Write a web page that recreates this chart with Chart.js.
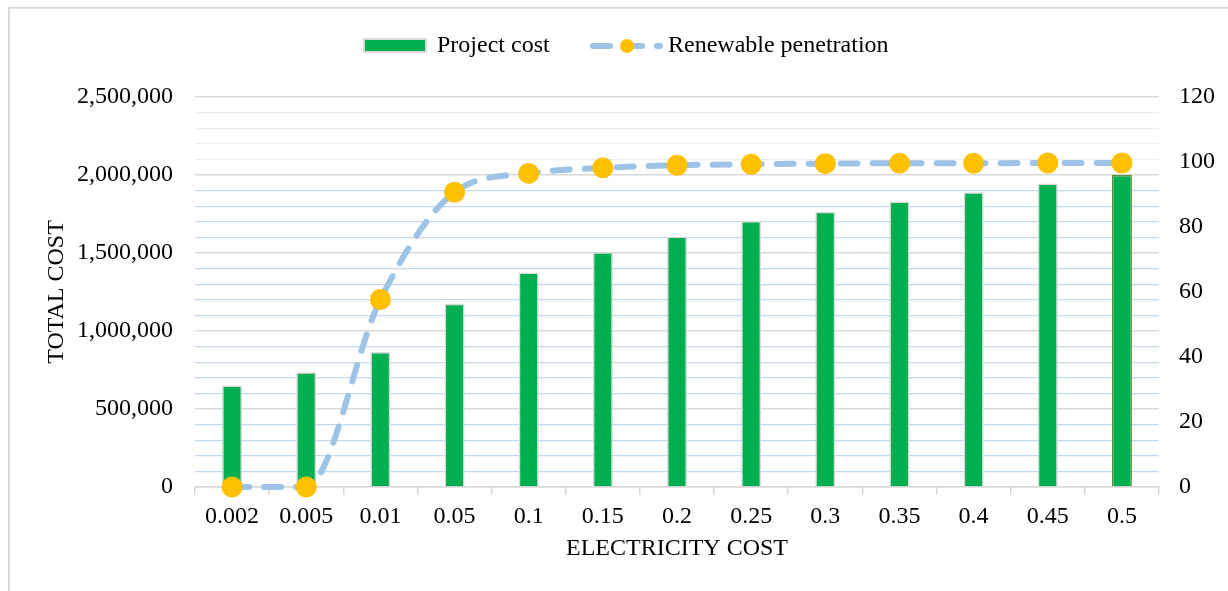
<!DOCTYPE html>
<html>
<head>
<meta charset="utf-8">
<script src="https://cdn.jsdelivr.net/npm/chart.js@4/dist/chart.umd.min.js"></script>
<style>
  html, body { margin: 0; padding: 0; background: #fff; }
  #wrap { width: 1228px; height: 591px; position: relative; overflow: hidden; }
</style>
</head>
<body>
<div id="wrap"><canvas id="c" width="1228" height="591"></canvas></div>
<script>
// Electricity cost per unit (category axis)
const categories = ['0.002', '0.005', '0.01', '0.05', '0.1', '0.15', '0.2', '0.25', '0.3', '0.35', '0.4', '0.45', '0.5'];
// Total project cost for each electricity cost
const projectCost = [650000, 735000, 865000, 1175000, 1375000, 1505000, 1605000, 1705000, 1765000, 1830000, 1890000, 1945000, 2000000];
// Renewable penetration (%) for each electricity cost
const renewablePenetration = [0, 0, 57.7, 90.7, 96.5, 98.2, 99.0, 99.3, 99.5, 99.6, 99.6, 99.7, 99.7];
// Axis ranges
const leftTicks = { min: 0, max: 2500000, major: 500000, minor: 100000 };
const rightTicks = { min: 0, max: 120, step: 20 };

const FONT = "'Liberation Serif', 'Times New Roman', serif";
const GREEN = '#00B050';
const LINE_BLUE = '#9DC3E6';
const MARKER = '#FFC000';
const GRID_GRAY = '#d9d9d9';
const DASH = [17, 15];

const frame = {
  id: 'frame',
  beforeDraw(chart) {
    const ctx = chart.ctx;
    ctx.save();
    ctx.strokeStyle = GRID_GRAY;
    ctx.lineWidth = 2;
    ctx.strokeRect(9, 7.7, 1400, 800);
    ctx.restore();
  }
};

const legendPlugin = {
  id: 'topLegend',
  afterDraw(chart) {
    const ctx = chart.ctx;
    const y = 46;
    ctx.save();
    // Project cost swatch
    ctx.fillStyle = GREEN;
    ctx.fillRect(364, 39, 62, 13);
    ctx.strokeStyle = GRID_GRAY;
    ctx.lineWidth = 2;
    ctx.strokeRect(364, 39, 62, 13);
    ctx.fillStyle = '#000';
    ctx.font = '24px ' + FONT;
    ctx.textBaseline = 'middle';
    ctx.textAlign = 'left';
    ctx.fillText('Project cost', 437, y);
    // Renewable penetration swatch: dashed line with marker
    ctx.strokeStyle = LINE_BLUE;
    ctx.lineWidth = 6;
    ctx.lineCap = 'round';
    ctx.setLineDash(DASH);
    ctx.beginPath();
    ctx.moveTo(593, y);
    ctx.lineTo(660, y);
    ctx.stroke();
    ctx.setLineDash([]);
    ctx.fillStyle = MARKER;
    ctx.beginPath();
    ctx.arc(627, y, 7, 0, Math.PI * 2);
    ctx.fill();
    ctx.fillStyle = '#000';
    ctx.fillText('Renewable penetration', 668, y);
    ctx.restore();
  }
};

new Chart(document.getElementById('c'), {
  data: {
    labels: categories,
    datasets: [
      {
        type: 'line',
        label: 'Renewable penetration',
        data: renewablePenetration,
        yAxisID: 'yRight',
        order: 0,
        borderColor: LINE_BLUE,
        borderWidth: 6,
        borderDash: DASH,
        borderCapStyle: 'round',
        cubicInterpolationMode: 'monotone',
        pointRadius: 10.5,
        pointHoverRadius: 10.5,
        pointBackgroundColor: MARKER,
        pointBorderWidth: 0,
        fill: false,
        clip: false
      },
      {
        type: 'bar',
        label: 'Project cost',
        data: projectCost,
        yAxisID: 'yLeft',
        order: 1,
        backgroundColor: GREEN,
        borderColor: (c) => c.dataIndex === projectCost.length - 1 ? '#5f8f3a' : GRID_GRAY,
        borderWidth: 1.5,
        barPercentage: 0.27,
        categoryPercentage: 1
      }
    ]
  },
  options: {
    responsive: false,
    animation: false,
    devicePixelRatio: 1,
    layout: { padding: { top: 97, left: 0, right: 0, bottom: 0 } },
    plugins: {
      legend: { display: false },
      tooltip: { enabled: false }
    },
    scales: {
      x: {
        type: 'category',
        offset: true,
        grid: {
          offset: true,
          drawOnChartArea: false,
          drawTicks: true,
          tickLength: 8,
          color: GRID_GRAY,
          lineWidth: 1.5
        },
        border: { display: true, color: GRID_GRAY, width: 1.5 },
        ticks: { color: '#000', font: { family: FONT, size: 24 }, padding: 7.6, maxRotation: 0, autoSkip: false },
        title: {
          display: true,
          text: 'ELECTRICITY COST',
          color: '#000',
          font: { family: FONT, size: 24 },
          padding: { top: 0, bottom: 27.6 }
        },
        afterFit(s) { s.height = 104; }
      },
      yLeft: {
        type: 'linear',
        position: 'left',
        min: leftTicks.min,
        max: leftTicks.max,
        border: { display: false },
        grid: {
          drawTicks: false,
          color: (c) => {
            const v = c.tick.value;
            if (v % leftTicks.major === 0) return GRID_GRAY;
            return v > 2000000 ? '#e6eef8' : '#c3d8ee';
          },
          lineWidth: (c) => (c.tick.value % leftTicks.major === 0 ? 1.5 : 1.3)
        },
        ticks: {
          stepSize: leftTicks.minor,
          autoSkip: false,
          padding: 22,
          color: '#000',
          font: { family: FONT, size: 24 },
          callback: (v) => (v % leftTicks.major === 0 ? v.toLocaleString('en-US') : '')
        },
        title: {
          display: true,
          text: 'TOTAL COST',
          color: '#000',
          font: { family: FONT, size: 24 },
          padding: { top: 42.6, bottom: 0 }
        },
        afterFit(s) { s.width = 195; }
      },
      yRight: {
        type: 'linear',
        position: 'right',
        min: rightTicks.min,
        max: rightTicks.max,
        border: { display: false },
        grid: { drawOnChartArea: false, drawTicks: false },
        ticks: {
          stepSize: rightTicks.step,
          padding: 20,
          color: '#000',
          font: { family: FONT, size: 24 }
        },
        afterFit(s) { s.width = 69; }
      }
    }
  },
  plugins: [frame, legendPlugin]
});
</script>
</body>
</html>
